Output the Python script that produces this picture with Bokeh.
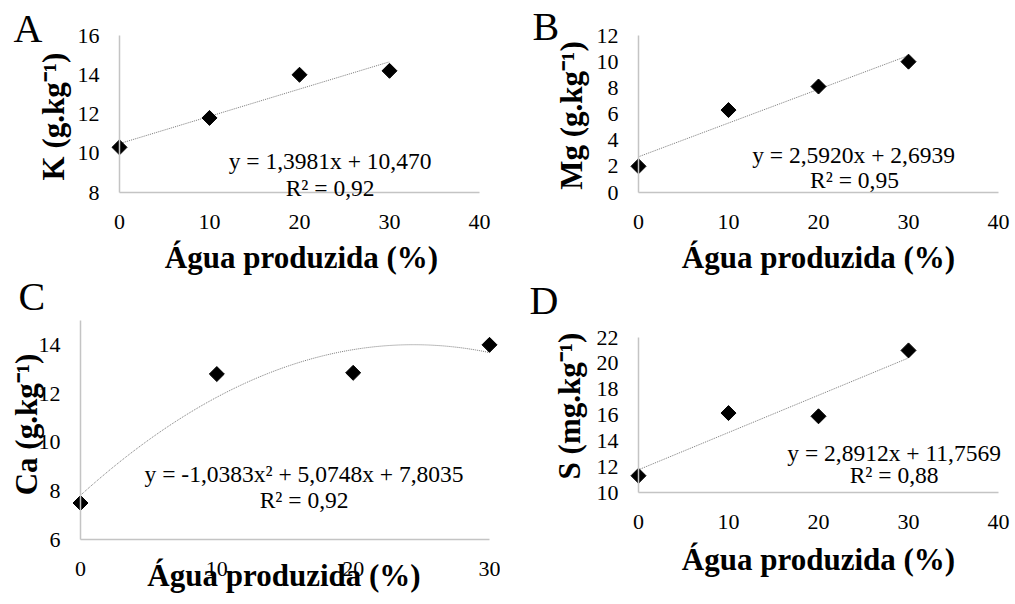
import numpy as np
from bokeh.plotting import figure
from bokeh.models import Range1d, FixedTicker, Label, Title, LinearAxis
from bokeh.layouts import column, row
from bokeh.embed import file_html
from bokeh.resources import INLINE

# ---- data ----
agua = [0, 10, 20, 30]
k_vals = [10.3, 11.8, 14.0, 14.2]
mg_vals = [2.0, 6.3, 8.1, 10.0]
ca_vals = [7.5, 12.8, 12.85, 14.0]
s_vals = [11.3, 16.15, 15.9, 21.0]

x_ticks_40 = [0, 10, 20, 30, 40]
x_ticks_30 = [0, 10, 20, 30]
k_ticks = [8, 10, 12, 14, 16]
mg_ticks = [0, 2, 4, 6, 8, 10, 12]
ca_ticks = [6, 8, 10, 12, 14]
s_ticks = [10, 12, 14, 16, 18, 20, 22]
k_max, mg_max, ca_max, s_max = 16, 12, 15, 22

x_title = "Água produzida (%)"
k_title = "K (g.kg⁻¹)"
mg_title = "Mg (g.kg⁻¹)"
ca_title = "Ca (g.kg⁻¹)"
s_title = "S (mg.kg⁻¹)"

eq_k = ["y = 1,3981x + 10,470", "R² = 0,92"]
eq_mg = ["y = 2,5920x + 2,6939", "R² = 0,95"]
eq_ca = ["y = -1,0383x² + 5,0748x + 7,8035", "R² = 0,92"]
eq_s = ["y = 2,8912x + 11,7569", "R² = 0,88"]

FONT = "Liberation Serif"
AXIS_GREY = "#c4c4c4"
OVERLAP = 12  # bottom row is pulled up over the empty bottom of the top row


def span(d0, d1, p0, p1, f0, f1):
    """range whose frame edges (pixels f0, f1) put d0 at pixel p0, d1 at p1"""
    s = (p1 - p0) / (d1 - d0)
    return Range1d(d0 + (f0 - p0) / s, d0 + (f1 - p0) / s)


def line_axis(loc, bounds):
    ax = LinearAxis(fixed_location=loc, bounds=bounds,
                    ticker=FixedTicker(ticks=[]))
    ax.axis_line_color = AXIS_GREY
    ax.axis_line_width = 1.5
    ax.major_tick_line_color = None
    ax.minor_tick_line_color = None
    ax.major_tick_out = 0
    ax.major_tick_in = 0
    ax.major_label_standoff = 0
    ax.axis_label_standoff = 0
    ax.major_label_text_font_size = "1px"
    return ax


def panel(letter, vals, deg, xticks, yticks, ymax, ytitle, eq, eq_pos,
          canvas, axis_px, frame_px, stand, letter_cfg):
    cx, cy, w, h = canvas
    X0, X1, Y0, Y1 = axis_px
    FL, FR, FT, FB = frame_px
    x0, x1 = xticks[0], xticks[-1]
    y0, y1 = yticks[0], ymax
    p = figure(width=w, height=h, output_backend="svg", toolbar_location=None,
               x_range=span(x0, x1, X0, X1, FL, FR),
               y_range=span(y0, y1, Y0, Y1, FB, FT),
               min_border_left=FL - cx, min_border_right=cx + w - FR,
               min_border_top=FT - cy, min_border_bottom=cy + h - FB,
               frame_align=False)
    p.outline_line_color = None
    p.background_fill_color = None
    p.border_fill_color = None
    p.xgrid.visible = False
    p.ygrid.visible = False
    xa, ya = p.xaxis[0], p.yaxis[0]
    for ax, tk in ((xa, xticks), (ya, yticks)):
        ax.ticker = FixedTicker(ticks=tk)
        ax.minor_tick_line_color = None
        ax.major_tick_line_color = None
        ax.major_tick_out = 0
        ax.major_tick_in = 0
        ax.axis_line_color = None
        ax.major_label_text_font = FONT
        ax.major_label_text_font_size = "22px"
        ax.major_label_text_color = "black"
        ax.axis_label_text_font = FONT
        ax.axis_label_text_font_style = "bold"
        ax.axis_label_text_font_size = "31px"
        ax.axis_label_text_color = "black"
    xa.axis_label = x_title
    ya.axis_label = ytitle
    # label standoffs measured from the frame edge, which lies a little
    # outside the drawn axis lines
    ya.major_label_standoff = stand[0] - (X0 - FL)
    ya.axis_label_standoff = stand[1]
    xa.major_label_standoff = stand[2] - (FB - Y0)
    xa.axis_label_standoff = stand[3]

    # visible axis lines at x = 0 and at the bottom of the y scale
    p.add_layout(line_axis(x0, (y0, y1)), "left")

    # trend line from least squares fit of the data
    coef = np.polyfit(agua, vals, deg)
    if deg == 1:
        xs = np.array([agua[0], agua[-1]], dtype=float)
    else:
        xs = np.linspace(agua[0], agua[-1], 120)
    p.line(xs, np.polyval(coef, xs), line_color="#7a7a7a", line_width=1,
           line_dash="1 1")
    p.scatter(agua, vals, marker="square", angle=np.pi / 4, size=10.6,
              fill_color="black", line_color="black")

    for txt, (ex, ey) in zip(eq, eq_pos):
        p.add_layout(Label(x=ex, y=ey, text=txt, text_font=FONT,
                           text_font_size="23.5px", text_align="center",
                           text_baseline="middle", text_color="black"))
    lx, sto = letter_cfg
    p.add_layout(Title(text=letter, align="left", vertical_align="bottom",
                       offset=lx - FL, standoff=sto, text_font=FONT,
                       text_font_style="normal", text_font_size="40px",
                       text_color="black"), "above")
    p.add_layout(line_axis(y0, (x0, x1)), "above")
    return p


R2 = 285 - OVERLAP  # page y where the bottom row starts

pA = panel("A", k_vals, 1, x_ticks_40, k_ticks, k_max, k_title,
           eq_k, [(23.4, 9.58), (23.4, 8.25)],
           (0, 0, 500, 285), (119, 479, 192, 35), (107, 495, 30, 202),
           (20, 4, 22, 8), (13, -41))
pB = panel("B", mg_vals, 1, x_ticks_40, mg_ticks, mg_max, mg_title,
           eq_mg, [(23.9, 2.83), (24.0, 0.92)],
           (500, 0, 513, 285), (638, 998, 192, 35), (626, 1010, 30, 200),
           (20, 5, 22, 8), (532, -37))
pC = panel("C", ca_vals, 2, x_ticks_30, ca_ticks, ca_max, ca_title,
           eq_ca, [(16.4, 8.68), (16.4, 7.61)],
           (0, R2, 500, 602 - R2), (80, 489, 539, 320), (68, 499, 305, 543),
           (20, -8, 22, -21), (18, -27))
pD = panel("D", s_vals, 1, x_ticks_40, s_ticks, s_max, s_title,
           eq_s, [(28.4, 13.08), (28.4, 11.38)],
           (500, R2, 513, 602 - R2), (638, 998, 492, 337), (626, 1010, 315, 496),
           (20, 7, 22, 10), (529, -14))

layout = column(row(pA, pB), row(pC, pD, margin=(-OVERLAP, 0, 0, 0)))
open("out.html", "w").write(file_html(layout, INLINE))
